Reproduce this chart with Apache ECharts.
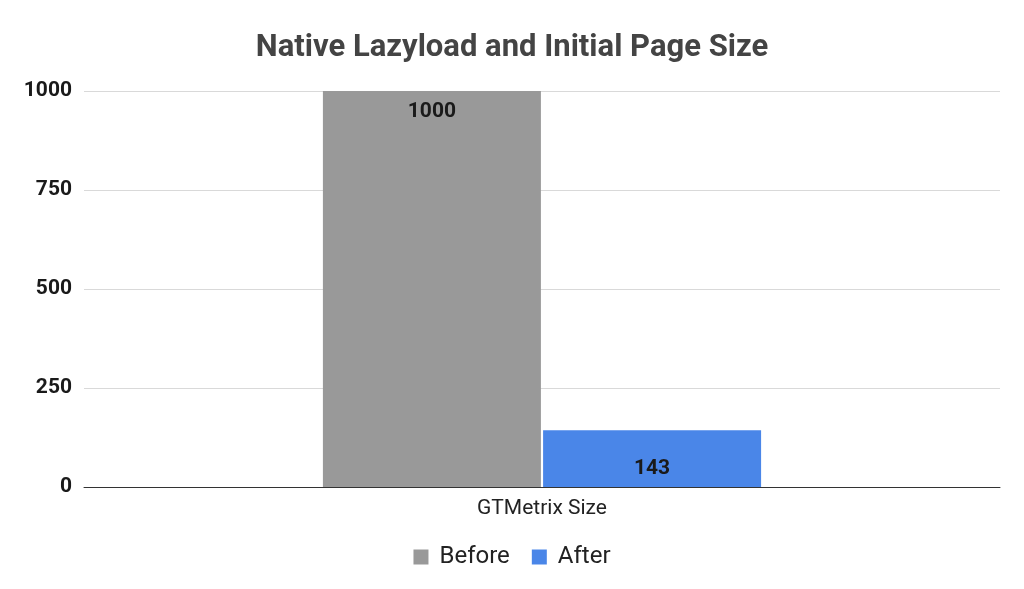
<!DOCTYPE html>
<html><head><meta charset="utf-8">
<script src="https://cdn.jsdelivr.net/npm/echarts@6/dist/echarts.min.js"></script>
<style>html,body{margin:0;padding:0;background:#fff}#c{width:1024px;height:589px}</style>
</head><body><div id="c"></div>
<script>
const categories = ['GTMetrix Size'];
const seriesNames = ['Before', 'After'];
const beforeValues = [1000];
const afterValues = [143];
const yTicks = [0, 250, 500, 750, 1000];

const chart = echarts.init(document.getElementById('c'), null, {renderer: 'canvas'});
const labelBase = {show: true, fontFamily: 'Roboto', fontWeight: 'bold', fontSize: 21, color: '#1a1a1a'};
chart.setOption({
  backgroundColor: '#fff',
  animation: false,
  title: {text: 'Native Lazyload and Initial Page Size', left: 'center', top: 28,
    textStyle: {fontFamily: 'Roboto', fontWeight: 'bold', fontSize: 31, color: '#444'}},
  grid: {left: 84, right: 24, top: 91, bottom: 102, containLabel: false},
  legend: {top: 540, left: 'center', icon: 'rect', itemWidth: 15, itemHeight: 15, itemGap: 22,
    textStyle: {fontFamily: 'Roboto', fontSize: 24, color: '#222', padding: [0, 0, 0, 6]},
    data: seriesNames},
  xAxis: {type: 'category', data: categories,
    axisLine: {lineStyle: {color: '#333', width: 1}}, axisTick: {show: false},
    axisLabel: {fontFamily: 'Roboto', fontSize: 21, color: '#222', margin: 11}},
  yAxis: {type: 'value', min: yTicks[0], max: yTicks[yTicks.length - 1], interval: 250,
    axisLine: {show: false}, axisTick: {show: false},
    splitLine: {lineStyle: {color: '#d9d9d9', width: 1}},
    axisLabel: {fontFamily: 'Roboto', fontWeight: 'bold', fontSize: 21, color: '#1a1a1a', margin: 12,
      formatter: v => String(v)}},
  series: [
    {name: seriesNames[0], type: 'bar', data: beforeValues, barWidth: 218, barGap: '1%',
      itemStyle: {color: '#999999'},
      label: Object.assign({}, labelBase, {position: 'insideTop', distance: 10})},
    {name: seriesNames[1], type: 'bar', data: afterValues, barWidth: 218,
      itemStyle: {color: '#4a86e8'},
      label: Object.assign({}, labelBase, {position: 'insideBottom', distance: 8})}
  ]
});
</script></body></html>
